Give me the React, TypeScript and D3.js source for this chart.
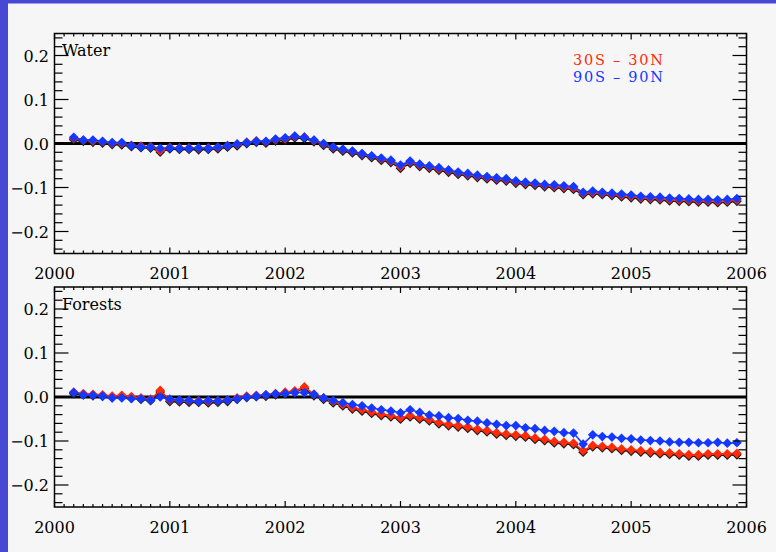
import React, { useEffect, useRef } from 'react';
import * as d3 from 'd3';

// monthly points, Mar 2000 .. Dec 2005 (decimal years)
const months = d3.range(2, 72).map((m) => 2000 + m / 12);

const yearTicks = [2000, 2001, 2002, 2003, 2004, 2005, 2006];
const valueTicks = [-0.2, -0.1, 0.0, 0.1, 0.2];

const waterTropics = [
    0.012, 0.008, 0.006, 0.004, 0.001, 0.000, -0.004, -0.006, -0.007, -0.016,
    -0.009, -0.010, -0.010, -0.011, -0.010, -0.009, -0.005, -0.002, 0.003, 0.006, 0.004, 0.009,
    0.011, 0.016, 0.015, 0.007, -0.001, -0.009, -0.014, -0.018, -0.024, -0.029, -0.035, -0.040,
    -0.053, -0.042, -0.049, -0.053, -0.058, -0.062, -0.067, -0.070, -0.074, -0.077, -0.080, -0.082,
    -0.087, -0.090, -0.092, -0.095, -0.097, -0.099, -0.101, -0.113, -0.111, -0.113, -0.115, -0.118,
    -0.120, -0.123, -0.124, -0.125, -0.127, -0.128, -0.129, -0.130, -0.130, -0.131, -0.130, -0.128,
];

const waterGlobal = [
    0.014, 0.008, 0.008, 0.005, 0.002, 0.002, -0.005, -0.008, -0.008, -0.011,
    -0.010, -0.011, -0.011, -0.010, -0.011, -0.008, -0.005, -0.001, 0.002, 0.005, 0.005, 0.010,
    0.013, 0.017, 0.014, 0.008, 0.000, -0.008, -0.013, -0.017, -0.023, -0.028, -0.033, -0.038,
    -0.049, -0.040, -0.047, -0.051, -0.055, -0.060, -0.065, -0.068, -0.072, -0.075, -0.078, -0.080,
    -0.085, -0.088, -0.090, -0.093, -0.094, -0.096, -0.098, -0.111, -0.108, -0.111, -0.113, -0.115,
    -0.117, -0.120, -0.121, -0.122, -0.124, -0.125, -0.126, -0.127, -0.127, -0.128, -0.127, -0.125,
];

const forestTropics = [
    0.011, 0.008, 0.006, 0.005, 0.002, 0.004, 0.001, -0.002, -0.005, 0.015,
    -0.007, -0.008, -0.009, -0.009, -0.010, -0.009, -0.007, -0.002, 0.002, 0.004, 0.005, 0.008,
    0.011, 0.014, 0.023, 0.006, -0.002, -0.010, -0.017, -0.024, -0.029, -0.034, -0.039, -0.042,
    -0.047, -0.042, -0.047, -0.051, -0.058, -0.062, -0.065, -0.068, -0.073, -0.076, -0.081, -0.084,
    -0.086, -0.088, -0.093, -0.096, -0.101, -0.103, -0.105, -0.122, -0.110, -0.112, -0.114, -0.118,
    -0.120, -0.122, -0.124, -0.126, -0.127, -0.129, -0.131, -0.131, -0.129, -0.129, -0.129, -0.128,
];

const forestGlobal = [
    0.010, 0.005, 0.004, 0.002, -0.002, -0.002, -0.004, -0.004, -0.007, 0.000,
    -0.005, -0.007, -0.008, -0.010, -0.008, -0.009, -0.007, -0.004, 0.000, 0.002, 0.005, 0.007,
    0.008, 0.010, 0.010, 0.006, -0.002, -0.008, -0.013, -0.017, -0.020, -0.025, -0.029, -0.032,
    -0.036, -0.029, -0.035, -0.041, -0.043, -0.047, -0.049, -0.053, -0.055, -0.059, -0.062, -0.065,
    -0.065, -0.070, -0.072, -0.076, -0.078, -0.081, -0.082, -0.107, -0.086, -0.090, -0.091, -0.094,
    -0.095, -0.098, -0.099, -0.100, -0.102, -0.103, -0.103, -0.104, -0.104, -0.103, -0.105, -0.104,
];

const legend = [
    { label: "30S \u2013 30N", color: "#ff2a08" },
    { label: "90S \u2013 90N", color: "#1438ff" },
];

const panels = [
    { title: "Water", tropics: waterTropics, global: waterGlobal, top: 33.5 },
    { title: "Forests", tropics: forestTropics, global: forestGlobal, top: 287 },
];

const W = 776, H = 552;
const left = 54.5, right = 746.5, panelH = 220;
const font = "'DejaVu Serif', serif";

const App = () => {
    const ref = useRef<SVGSVGElement>(null);

    useEffect(() => {
        const svg = d3.select(ref.current);
        svg.selectAll("*").remove();

        svg.append("rect").attr("width", W).attr("height", H).attr("fill", "#4749d4");
        svg.append("rect").attr("x", 8).attr("y", 3.5).attr("width", W).attr("height", H).attr("fill", "#f6f6f6");

        const x = d3.scaleLinear().domain([2000, 2006]).range([left, right]);
        const minorX = d3.range(0, 73).map((m) => 2000 + m / 12);
        const minorY = d3.range(-12, 13).map((k) => k * 0.02);
        const fmt = d3.format(".1f");
        const diamond = d3.symbol().type(d3.symbolDiamond2).size(60);

        panels.forEach((p) => {
            const y = d3.scaleLinear().domain([-0.25, 0.25]).range([p.top + panelH, p.top]);
            const g = svg.append("g");

            g.append("line")
                .attr("x1", left).attr("x2", right)
                .attr("y1", y(0)).attr("y2", y(0))
                .attr("stroke", "#000").attr("stroke-width", 3);

            const line = d3.line<number>().x((d, i) => x(months[i])).y((d) => y(d));

            const drawSeries = (vals: number[], col: string, dy: number) => {
                const s = g.append("g").attr("transform", `translate(0,${dy})`);
                s.append("path").attr("d", line(vals)).attr("fill", "none")
                    .attr("stroke", col).attr("stroke-width", 1.5);
                s.selectAll("path.pt").data(vals).enter().append("path")
                    .attr("class", "pt")
                    .attr("transform", (d, i) => `translate(${x(months[i])},${y(d)})`)
                    .attr("d", diamond)
                    .attr("fill", col);
            };
            drawSeries(p.tropics, "#1a1a1a", 1.5);
            drawSeries(p.tropics, legend[0].color, 0);
            drawSeries(p.global, legend[1].color, 0);

            // frame
            g.append("rect")
                .attr("x", left).attr("y", p.top)
                .attr("width", right - left).attr("height", panelH)
                .attr("fill", "none").attr("stroke", "#000").attr("stroke-width", 1.5);

            // y ticks, both sides pointing in
            minorY.forEach((v) => {
                const major = valueTicks.some((t) => Math.abs(t - v) < 1e-6);
                const len = major ? 14 : 8;
                g.append("line").attr("x1", left).attr("x2", left + len)
                    .attr("y1", y(v)).attr("y2", y(v)).attr("stroke", "#000").attr("stroke-width", 1.2);
                g.append("line").attr("x1", right).attr("x2", right - len)
                    .attr("y1", y(v)).attr("y2", y(v)).attr("stroke", "#000").attr("stroke-width", 1.2);
            });

            // x ticks, top and bottom
            minorX.forEach((v, i) => {
                const len = i % 12 === 0 ? 6 : 3;
                g.append("line").attr("x1", x(v)).attr("x2", x(v))
                    .attr("y1", p.top + panelH).attr("y2", p.top + panelH - len)
                    .attr("stroke", "#000").attr("stroke-width", 1.2);
                g.append("line").attr("x1", x(v)).attr("x2", x(v))
                    .attr("y1", p.top).attr("y2", p.top + len)
                    .attr("stroke", "#000").attr("stroke-width", 1.2);
            });

            g.selectAll("text.yl").data(valueTicks).enter().append("text")
                .attr("x", 49).attr("y", (d) => y(d) + 6)
                .attr("text-anchor", "end")
                .attr("font-family", font).attr("font-size", 16)
                .text((d) => fmt(d));

            g.selectAll("text.xl").data(yearTicks).enter().append("text")
                .attr("x", (d) => x(d)).attr("y", p.top + panelH + 25.5)
                .attr("text-anchor", "middle")
                .attr("font-family", font).attr("font-size", 16)
                .text((d) => d);

            g.append("text")
                .attr("x", 62).attr("y", p.top + 22.5)
                .attr("font-family", font).attr("font-size", 16)
                .text(p.title);
        });

        svg.selectAll("text.leg").data(legend).enter().append("text")
            .attr("x", 573).attr("y", (d, i) => 64.5 + i * 17)
            .attr("font-family", font).attr("font-size", 14.5)
            .attr("textLength", 90).attr("lengthAdjust", "spacing")
            .attr("fill", (d) => d.color)
            .text((d) => d.label);
    }, []);

    return (
        <svg ref={ref} width={W} height={H} style={{ position: 'absolute', left: 0, top: 0 }}>
        </svg>
    );
}

export default App;
